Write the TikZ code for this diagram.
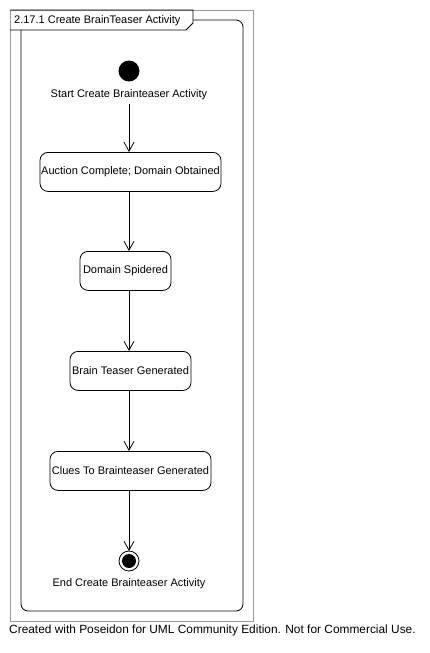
\documentclass[tikz,border=0pt]{standalone}
\usepackage{fontspec}
\setmainfont{Liberation Sans}
\usetikzlibrary{arrows.meta}
\begin{document}
\begin{tikzpicture}[x=1pt,y=-1pt,
  every node/.style={font=\fontsize{11}{13}\selectfont, inner sep=0pt},
  state/.style={draw, rounded corners=8pt, line width=0.8pt, minimum height=39pt, anchor=north},
  flow/.style={draw, line width=0.8pt, -{Straight Barb[length=9pt,width=10pt,line width=0.8pt]}},
  frameline/.style={line width=0.8pt}]
\useasboundingbox (0,0) rectangle (429,653);
% outer gray frame
\draw[gray!80!white, line width=0.8pt] (10,10) rectangle (253,621);
% inner rounded frame
\draw[frameline, rounded corners=7pt] (193,20) -- (243,20) -- (243,611) -- (21,611) -- (21,30);
% title tab
\draw[frameline] (10,10) -- (193,10) -- (193,23) -- (186,30) -- (10,30);
\node[anchor=west] (title) at (14,20.5) {2.17.1 Create BrainTeaser Activity};
% start
\fill (129,71) circle (10.5pt);
\coordinate (startc) at (129,71);
\node (startlbl) at (129,94.5) {Start Create Brainteaser Activity};
\coordinate (startout) at (129,104);
% states
\node[state, minimum width=181pt] (s1) at (130.5,152) {Auction Complete; Domain Obtained};
\node[state, minimum width=91pt] (s2) at (125.5,251) {Domain Spidered};
\node[state, minimum width=121pt] (s3) at (130.5,351) {Brain Teaser Generated};
\node[state, minimum width=161pt] (s4) at (130.5,451) {Clues To Brainteaser Generated};
% end
\coordinate (endc) at (129,561);
\draw[line width=0.8pt] (endc) circle (10pt);
\fill (endc) circle (7pt);
\node (endlbl) at (129,583.5) {End Create Brainteaser Activity};
\coordinate (endin) at (129,551);
% flows
\draw[flow] (startout) -- (129,152);
\draw[flow] (129,191) -- (129,251);
\draw[flow] (129,290) -- (129,351);
\draw[flow] (129,390) -- (129,451);
\draw[flow] (129,490) -- (endin);
% footer
\node[anchor=west, font=\fontsize{11.9}{14}\selectfont] (footer) at (9,630.5) {Created with Poseidon for UML Community Edition. Not for Commercial Use.};
\end{tikzpicture}
\end{document}
